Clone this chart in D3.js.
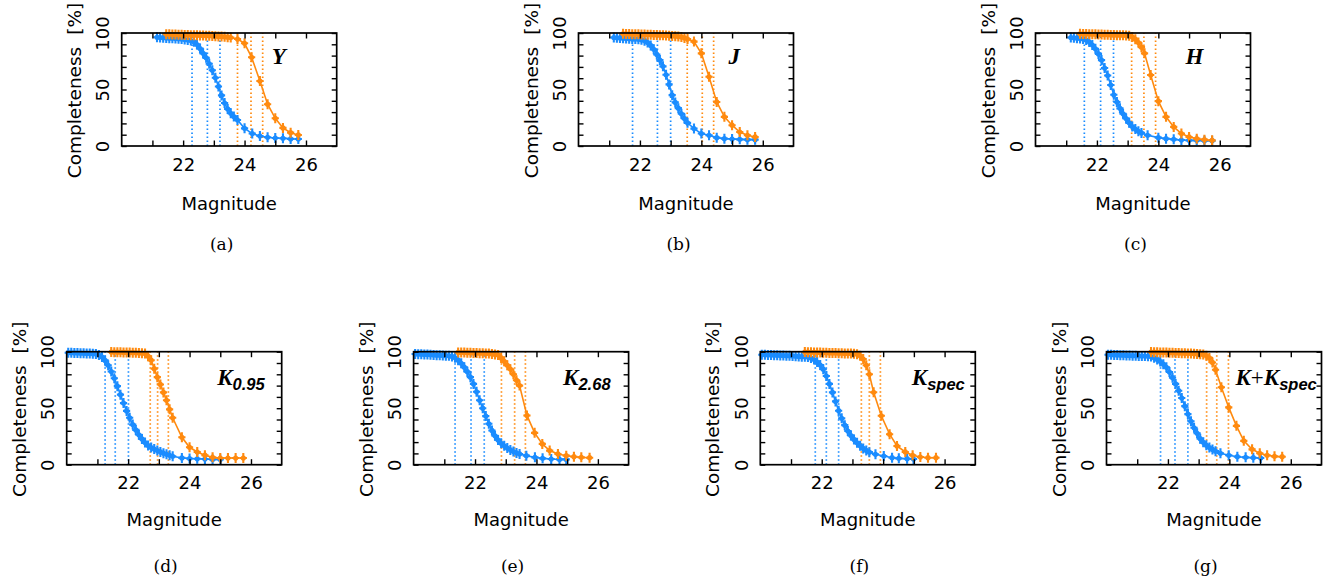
<!DOCTYPE html>
<html><head><meta charset="utf-8">
<script src="https://cdn.jsdelivr.net/npm/d3@7"></script>
<style>body{margin:0;background:#fff} svg{display:block}</style>
</head><body>
<svg id="c" width="1336" height="580"></svg>
<script>
// ---------- axis / tick definitions ----------
const xDomain = [20, 27];
const yDomain = [0, 100];
const xTickValues = [21, 22, 23, 24, 25, 26];
const xTickLabels = [22, 24, 26];
const yTickValues = [0, 10, 20, 30, 40, 50, 60, 70, 80, 90, 100];
const yTickLabels = [0, 50, 100];
const xAxisTitle = "Magnitude";
const yAxisTitle = "Completeness";
const yAxisUnit = "[%]";
const captions = ["(a)", "(b)", "(c)", "(d)", "(e)", "(f)", "(g)"];

// ---------- data: [magnitude, completeness %] ----------
const blueY = [[21.15,96.2],[21.25,96.0],[21.35,95.8],[21.45,95.6],[21.55,95.4],[21.65,95.3],[21.75,95.1],[21.85,94.9],[21.95,94.6],[22.05,94.2],[22.15,93.8],[22.25,93.3],[22.35,92.3],[22.45,89.8],[22.55,86.3],[22.65,82.0],[22.75,78.0],[22.85,72.8],[22.95,67.0],[23.05,60.4],[23.15,52.6],[23.25,44.8],[23.35,38.0],[23.45,32.8],[23.55,29.0],[23.65,26.0],[23.77,23.0],[24.0,15.6],[24.25,11.0],[24.5,8.8],[24.75,7.7],[25.0,7.1],[25.25,6.8],[25.5,6.3],[25.75,6.2]];
const orangeY = [[21.45,98.9],[21.55,98.8],[21.65,98.7],[21.75,98.6],[21.85,98.5],[21.95,98.4],[22.05,98.3],[22.15,98.2],[22.25,98.1],[22.35,98.0],[22.45,97.9],[22.55,97.8],[22.65,97.7],[22.75,97.6],[22.85,97.5],[22.95,97.3],[23.05,97.2],[23.15,97.0],[23.25,96.8],[23.35,96.6],[23.45,96.3],[23.55,96.0],[23.77,94.7],[24.0,90.9],[24.23,78.5],[24.5,57.5],[24.75,37.0],[25.0,24.5],[25.25,16.0],[25.5,11.8],[25.75,9.8]];

const blueJ = [[21.15,96.0],[21.25,95.8],[21.35,95.6],[21.45,95.4],[21.55,95.2],[21.65,95.0],[21.75,94.8],[21.85,94.6],[21.95,94.4],[22.05,94.0],[22.15,93.2],[22.25,91.5],[22.35,89.0],[22.45,85.6],[22.55,81.0],[22.65,76.0],[22.75,70.5],[22.85,63.0],[22.95,54.5],[23.05,45.0],[23.15,38.6],[23.25,33.5],[23.35,28.5],[23.45,24.3],[23.55,20.5],[23.76,15.4],[24.0,11.0],[24.25,9.5],[24.5,7.4],[24.75,6.5],[25.0,6.2],[25.25,5.9],[25.5,5.6],[25.75,5.6]];
const orangeJ = [[21.45,99.3],[21.55,99.2],[21.65,99.1],[21.75,99.0],[21.85,98.9],[21.95,98.8],[22.05,98.7],[22.15,98.6],[22.25,98.5],[22.35,98.4],[22.45,98.3],[22.55,98.2],[22.65,98.1],[22.75,98.0],[22.85,97.8],[22.95,97.6],[23.05,97.4],[23.15,97.2],[23.25,96.9],[23.35,96.5],[23.45,95.6],[23.55,94.6],[23.76,92.4],[24.0,82.0],[24.25,61.3],[24.5,39.0],[24.75,25.8],[25.0,18.4],[25.25,12.4],[25.5,9.5],[25.75,8.0]];

const blueH = [[21.15,96.0],[21.25,95.7],[21.35,95.4],[21.45,95.1],[21.55,94.8],[21.65,93.8],[21.75,92.0],[21.85,89.4],[21.95,86.0],[22.05,81.5],[22.15,76.0],[22.25,69.0],[22.35,62.4],[22.45,54.0],[22.55,45.3],[22.65,39.0],[22.75,33.3],[22.85,28.5],[22.95,24.3],[23.05,20.5],[23.15,17.2],[23.25,15.0],[23.35,13.0],[23.45,11.6],[23.65,9.5],[24.0,7.4],[24.25,6.5],[24.5,5.9],[24.75,5.3],[25.0,5.0],[25.25,5.0],[25.5,4.7],[25.75,4.7]];
const orangeH = [[21.45,99.3],[21.55,99.2],[21.65,99.1],[21.75,99.0],[21.85,98.9],[21.95,98.8],[22.05,98.7],[22.15,98.6],[22.25,98.5],[22.35,98.4],[22.45,98.3],[22.55,98.2],[22.65,98.1],[22.75,98.0],[22.85,97.9],[22.95,97.8],[23.05,97.6],[23.15,96.5],[23.25,94.5],[23.35,91.5],[23.45,87.5],[23.55,82.0],[23.75,62.8],[24.0,39.7],[24.25,25.8],[24.5,16.9],[24.75,11.0],[25.0,8.0],[25.25,6.5],[25.5,5.6],[25.75,5.0]];

const blueK095 = [[20.05,99.1],[20.15,99.0],[20.25,98.9],[20.35,98.8],[20.45,98.7],[20.55,98.6],[20.65,98.5],[20.75,98.3],[20.85,98.1],[20.95,97.9],[21.05,97.1],[21.15,95.3],[21.25,92.3],[21.35,88.0],[21.45,82.5],[21.55,76.5],[21.65,69.5],[21.75,62.0],[21.85,54.5],[21.95,47.6],[22.05,41.5],[22.15,35.5],[22.25,30.8],[22.35,26.5],[22.45,22.8],[22.55,19.6],[22.65,17.0],[22.75,15.2],[22.85,13.8],[22.95,12.5],[23.05,11.3],[23.15,10.2],[23.25,9.2],[23.35,8.3],[23.45,7.5],[23.75,6.0],[24.0,5.5],[24.25,5.2],[24.5,5.0],[24.75,4.7],[25.0,4.7]];
const orangeK095 = [[21.45,99.7],[21.55,99.6],[21.65,99.6],[21.75,99.5],[21.85,99.4],[21.95,99.3],[22.05,99.2],[22.15,99.1],[22.25,99.0],[22.35,98.8],[22.45,98.6],[22.55,98.3],[22.65,96.0],[22.75,92.5],[22.85,85.0],[22.95,77.5],[23.05,71.0],[23.15,64.0],[23.25,57.0],[23.35,49.0],[23.45,41.5],[23.75,24.3],[24.0,15.4],[24.25,11.2],[24.5,8.4],[24.75,6.5],[25.0,5.9],[25.25,5.9],[25.5,5.9],[25.75,5.9]];

const blueK268 = [[20.05,97.9],[20.15,97.8],[20.25,97.7],[20.35,97.6],[20.45,97.5],[20.55,97.3],[20.65,97.1],[20.75,96.9],[20.85,96.8],[20.95,96.7],[21.05,96.5],[21.15,96.4],[21.25,95.8],[21.35,94.6],[21.45,92.5],[21.55,89.8],[21.65,86.3],[21.75,82.3],[21.85,77.5],[21.95,71.5],[22.05,64.5],[22.15,57.0],[22.25,50.0],[22.35,43.0],[22.45,36.2],[22.55,30.3],[22.65,25.6],[22.75,21.8],[22.85,19.0],[22.95,16.7],[23.05,14.8],[23.15,13.1],[23.25,11.6],[23.35,10.4],[23.45,9.5],[23.67,8.0],[23.95,6.5],[24.2,5.6],[24.48,5.0],[24.75,4.7],[24.97,4.7]];
const orangeK268 = [[21.45,99.4],[21.55,99.3],[21.65,99.2],[21.75,99.1],[21.85,99.0],[21.95,98.9],[22.05,98.8],[22.15,98.7],[22.25,98.6],[22.35,98.5],[22.45,98.3],[22.55,98.0],[22.65,97.6],[22.75,97.0],[22.85,94.5],[22.95,91.5],[23.05,88.0],[23.15,84.5],[23.25,80.0],[23.35,74.8],[23.45,70.0],[23.69,43.6],[23.94,28.2],[24.19,18.4],[24.43,12.5],[24.7,9.5],[24.97,8.0],[25.22,7.1],[25.46,6.5],[25.73,6.2]];

const blueKspec = [[20.05,97.3],[20.15,97.2],[20.25,97.1],[20.35,97.0],[20.45,96.9],[20.55,96.8],[20.65,96.7],[20.75,96.6],[20.85,96.5],[20.95,96.4],[21.05,96.2],[21.15,96.0],[21.25,95.8],[21.35,95.6],[21.45,95.5],[21.55,95.3],[21.65,94.5],[21.75,93.0],[21.85,90.8],[21.95,88.2],[22.05,84.5],[22.15,78.5],[22.25,71.5],[22.35,64.0],[22.45,56.0],[22.55,47.8],[22.65,41.0],[22.75,35.0],[22.85,29.8],[22.95,25.8],[23.05,22.4],[23.15,19.4],[23.25,16.8],[23.35,14.4],[23.45,12.6],[23.55,11.1],[23.75,9.2],[24.02,7.7],[24.29,6.2],[24.51,5.6],[24.78,5.3],[24.99,5.0]];
const orangeKspec = [[21.45,99.7],[21.55,99.6],[21.65,99.5],[21.75,99.4],[21.85,99.3],[21.95,99.2],[22.05,99.1],[22.15,99.0],[22.25,98.9],[22.35,98.8],[22.45,98.8],[22.55,98.7],[22.65,98.6],[22.75,98.5],[22.85,98.4],[22.95,98.3],[23.05,98.2],[23.15,97.8],[23.25,96.5],[23.35,93.5],[23.45,88.0],[23.55,80.0],[23.69,64.1],[23.94,43.3],[24.21,27.0],[24.45,16.6],[24.72,11.3],[24.96,8.3],[25.21,6.8],[25.46,6.2],[25.72,6.2]];

const blueKKspec = [[20.05,97.3],[20.15,97.2],[20.25,97.1],[20.35,97.0],[20.45,96.9],[20.55,96.8],[20.65,96.7],[20.75,96.6],[20.85,96.5],[20.95,96.4],[21.05,96.3],[21.15,96.2],[21.25,96.1],[21.35,95.9],[21.45,95.7],[21.55,94.7],[21.65,93.2],[21.75,91.3],[21.85,89.0],[21.95,86.2],[22.05,82.0],[22.15,77.0],[22.25,71.5],[22.35,65.5],[22.45,59.0],[22.55,51.8],[22.65,44.8],[22.75,38.4],[22.85,32.7],[22.95,27.8],[23.05,23.0],[23.15,19.8],[23.25,17.3],[23.35,15.2],[23.45,13.5],[23.55,12.0],[23.71,10.1],[23.98,8.3],[24.26,7.1],[24.53,6.5],[24.78,6.2],[25.02,5.9]];
const orangeKKspec = [[21.45,99.7],[21.55,99.6],[21.65,99.5],[21.75,99.4],[21.85,99.3],[21.95,99.2],[22.05,99.1],[22.15,99.0],[22.25,98.9],[22.35,98.8],[22.45,98.7],[22.55,98.6],[22.65,98.5],[22.75,98.4],[22.85,98.2],[22.95,98.0],[23.05,97.8],[23.15,97.5],[23.25,96.5],[23.35,94.5],[23.45,90.5],[23.55,84.0],[23.74,68.5],[23.98,50.7],[24.23,34.4],[24.47,21.1],[24.74,13.6],[24.99,10.1],[25.23,8.3],[25.47,7.4],[25.72,7.1]];

// completeness-limit magnitudes (dotted verticals)
const cutBlueY = [22.29, 22.79, 23.2],    cutOrangeY = [23.77, 24.21, 24.59];
const cutBlueJ = [21.76, 22.57, 23.0],    cutOrangeJ = [23.54, 24.03, 24.4];
const cutBlueH = [21.59, 22.12, 22.54],   cutOrangeH = [23.13, 23.53, 23.91];
const cutBlueK095 = [21.25, 21.58, 22.01], cutOrangeK095 = [22.72, 22.96, 23.31];
const cutBlueK268 = [21.35, 21.87, 22.3],  cutOrangeK268 = [22.86, 23.29, 23.64];
const cutBlueKspec = [21.79, 22.15, 22.55], cutOrangeKspec = [23.29, 23.55, 23.91];
const cutBlueKK = [21.76, 22.23, 22.65],   cutOrangeKK = [23.26, 23.59, 23.97];

// band labels: [text part, italic?], subscript
const bandLabels = [
  {parts:[["Y",true]], sub:""},
  {parts:[["J",true]], sub:""},
  {parts:[["H",true]], sub:""},
  {parts:[["K",true]], sub:"0.95"},
  {parts:[["K",true]], sub:"2.68"},
  {parts:[["K",true]], sub:"spec"},
  {parts:[["K",true],["+",false],["K",true]], sub:"spec"}
];

// ---------- styling / layout ----------
const BLUE = "#1a8cff", ORANGE = "#ff8a0f";
const W = 215, H = 113;
const layout = [
  {left:121.7, top:33.0, row:0}, {left:578.5, top:33.0, row:0}, {left:1035.5, top:33.0, row:0},
  {left:66.7, top:351.7, row:1}, {left:413.6, top:351.7, row:1}, {left:760.3, top:351.7, row:1}, {left:1106.5, top:351.7, row:1}
];
const series = [
  [blueY, orangeY, cutBlueY, cutOrangeY],
  [blueJ, orangeJ, cutBlueJ, cutOrangeJ],
  [blueH, orangeH, cutBlueH, cutOrangeH],
  [blueK095, orangeK095, cutBlueK095, cutOrangeK095],
  [blueK268, orangeK268, cutBlueK268, cutOrangeK268],
  [blueKspec, orangeKspec, cutBlueKspec, cutOrangeKspec],
  [blueKKspec, orangeKKspec, cutBlueKK, cutOrangeKK]
];
const labelOffset = [150, 150, 150, 150.5, 149.5, 151.5, 129];

const svg = d3.select("#c");
const SANS = "'DejaVu Sans', sans-serif";

series.forEach((s, i) => {
  const L = layout[i];
  const [blue, orange, cb, co] = s;
  const x = d3.scaleLinear().domain(xDomain).range([0, W]);
  const y = d3.scaleLinear().domain(yDomain).range([H, 0]);
  const g = svg.append("g").attr("transform", `translate(${L.left},${L.top})`);

  // dotted cut lines
  const drawCuts = (vals, col) => g.selectAll(null).data(vals).enter().append("line")
    .attr("x1", d => x(d)).attr("x2", d => x(d)).attr("y1", y(0)).attr("y2", y(100))
    .attr("stroke", col).attr("stroke-width", 1.7).attr("stroke-dasharray", "1.5,2.5");
  drawCuts(cb, BLUE); drawCuts(co, ORANGE);

  // curves
  const line = d3.line().x(d => x(d[0])).y(d => y(d[1]));
  const drawSeries = (data, col) => {
    g.append("path").datum(data).attr("d", line).attr("fill", "none")
      .attr("stroke", col).attr("stroke-width", 1.6);
    const m = g.append("g");
    m.selectAll("path").data(data).enter().append("path")
      .attr("d", d => { const px = x(d[0]), py = y(d[1]);
        return `M${px-3.6},${py}H${px+3.6}M${px},${py-5}V${py+5}`; })
      .attr("stroke", col).attr("stroke-width", 2.1).attr("fill", "none");
    m.selectAll("circle").data(data).enter().append("circle")
      .attr("cx", d => x(d[0])).attr("cy", d => y(d[1])).attr("r", 2.6).attr("fill", col);
  };
  drawSeries(blue, BLUE);
  drawSeries(orange, ORANGE);

  // axes (inward ticks)
  const fmtX = d => xTickLabels.includes(d) ? d : "";
  const ax = g.append("g").attr("transform", `translate(0,${H})`)
    .call(d3.axisBottom(x).tickValues(xTickValues).tickSize(-5.5).tickPadding(12).tickFormat(fmtX));
  ax.selectAll("text").attr("font-family", SANS).attr("font-size", 18).attr("fill", "#000");
  g.append("g").call(d3.axisTop(x).tickValues(xTickValues).tickSize(-5.5).tickFormat(""));
  const ay = g.append("g")
    .call(d3.axisLeft(y).tickValues(yTickValues).tickSize(-5).tickFormat(d => yTickLabels.includes(d) ? d : ""));
  ay.selectAll("text").attr("x", null).attr("dy", null).attr("text-anchor", "middle")
    .attr("transform", "translate(-12.5,0) rotate(-90)")
    .attr("font-family", SANS).attr("font-size", 18).attr("fill", "#000");
  g.append("g").attr("transform", `translate(${W},0)`)
    .call(d3.axisRight(y).tickValues(yTickValues).tickSize(-5).tickFormat(""));
  g.selectAll(".domain").remove();
  g.selectAll(".tick line").attr("stroke", "#000").attr("stroke-width", 1.4);
  g.append("rect").attr("x", 0).attr("y", 0).attr("width", W).attr("height", H)
    .attr("fill", "none").attr("stroke", "#000").attr("stroke-width", 1.7);

  // axis titles
  g.append("text").attr("x", W/2).attr("y", L.row === 0 ? 177 : 174)
    .attr("text-anchor", "middle").attr("font-family", SANS).attr("font-size", 18)
    .text(xAxisTitle);
  const yt = g.append("text").attr("transform", `translate(-41,${H/2 + 1}) rotate(-90)`)
    .attr("text-anchor", "middle").attr("font-family", SANS).attr("font-size", 18.5);
  yt.append("tspan").text(yAxisTitle);
  yt.append("tspan").attr("dx", 12).text(yAxisUnit);

  // band label
  const bl = bandLabels[i];
  const t = g.append("text").attr("x", labelOffset[i]).attr("y", L.row === 0 ? 30.5 : 33)
    .attr("font-family", "'Liberation Serif', serif").attr("font-size", 23).attr("font-weight", "bold");
  bl.parts.forEach(p => t.append("tspan").attr("font-style", p[1] ? "italic" : "normal")
    .attr("font-weight", p[1] ? "bold" : "normal").text(p[0]));
  if (bl.sub) t.append("tspan").attr("dy", 5).attr("font-family", "'Liberation Sans', sans-serif")
    .attr("font-size", 16.5).attr("font-style", "italic").attr("font-weight", "bold").text(bl.sub);

  // caption
  svg.append("text").attr("x", L.left + W/2 - (L.row === 0 ? 7.5 : 8.5))
    .attr("y", L.row === 0 ? 250 : 572).attr("text-anchor", "middle")
    .attr("font-family", "'DejaVu Serif', serif").attr("font-size", 17).text(captions[i]);
});
</script>
</body></html>
